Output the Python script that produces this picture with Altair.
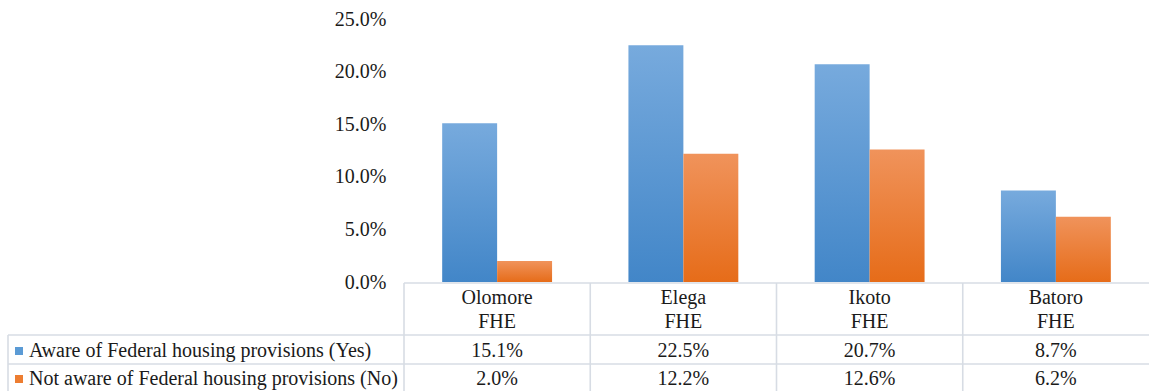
import altair as alt
import pandas as pd

# Survey results: awareness of Federal housing provisions per estate (percent)
places = ["Olomore", "Elega", "Ikoto", "Batoro"]
suffix = ["FHE", "FHE", "FHE", "FHE"]
aware_yes = [15.1, 22.5, 20.7, 8.7]
aware_no = [2.0, 12.2, 12.6, 6.2]
series = ["Aware of Federal housing provisions (Yes)",
          "Not aware of Federal housing provisions (No)"]
y_ticks = [0, 5, 10, 15, 20, 25]

W, H = 745, 263
FONT = "Liberation Serif"
FS = 20
INK = "#1a1a1a"
GRID = "#d7dce4"
LEFT = 396  # distance from the plot's left edge to the table's outer border

rows = []
for p, s, a, b in zip(places, suffix, aware_yes, aware_no):
    rows.append({"place": p, "suffix": s, "series": series[0], "key": "Yes", "value": a})
    rows.append({"place": p, "suffix": s, "series": series[1], "key": "No", "value": b})
df = pd.DataFrame(rows)

x_enc = alt.X("place:N", sort=places, axis=None,
              scale=alt.Scale(paddingInner=0.41, paddingOuter=0.205))
y_scale = alt.Scale(domain=[0, 25], nice=False, zero=True)
y_axis = alt.Axis(values=y_ticks, domain=False, ticks=False, tickSize=0,
                  grid=False, title=None, labelFont=FONT, labelFontSize=FS,
                  labelColor=INK, labelPadding=18,
                  labelExpr="format(datum.value, '.1f') + '%'")

blue_grad = alt.LinearGradient(
    gradient="linear", x1=0, x2=0, y1=0, y2=1,
    stops=[alt.GradientStop(color="#77aadd", offset=0),
           alt.GradientStop(color="#4286c8", offset=1)])
orange_grad = alt.LinearGradient(
    gradient="linear", x1=0, x2=0, y1=0, y2=1,
    stops=[alt.GradientStop(color="#f0935b", offset=0),
           alt.GradientStop(color="#e66c19", offset=1)])

base = alt.Chart(df)

def bars(key, grad):
    return base.transform_filter(alt.datum.key == key).mark_bar(color=grad).encode(
        x=x_enc,
        xOffset=alt.XOffset("key:N", sort=["Yes", "No"],
                            scale=alt.Scale(domain=["Yes", "No"], paddingInner=0, paddingOuter=0)),
        y=alt.Y("value:Q", scale=y_scale, axis=y_axis),
    )

bar_yes = bars("Yes", blue_grad)
bar_no = bars("No", orange_grad)

text_style = dict(font=FONT, fontSize=FS, color=INK, baseline="alphabetic")

one = base.transform_filter(alt.datum.key == "Yes")
header1 = one.mark_text(align="center", **text_style).encode(
    x=x_enc, y=alt.value(285), text="place:N")
header2 = one.mark_text(align="center", **text_style).encode(
    x=x_enc, y=alt.value(309), text="suffix:N")

def value_row(key, ypos):
    return base.transform_filter(alt.datum.key == key).transform_calculate(
        label="format(datum.value, '.1f') + '%'"
    ).mark_text(align="center", **text_style).encode(
        x=x_enc, y=alt.value(ypos), text="label:N")

row_yes = value_row("Yes", 338)
row_no = value_row("No", 366)

one_row = alt.Chart(pd.DataFrame({"k": [0]}))

def hline(x0, x1, y):
    return one_row.mark_rule(color=GRID, strokeWidth=1.6).encode(
        x=alt.value(x0), x2=alt.value(x1), y=alt.value(y))

def vline(x, y0, y1):
    return one_row.mark_rule(color=GRID, strokeWidth=1.6).encode(
        x=alt.value(x), y=alt.value(y0), y2=alt.value(y1))

step = W / len(places)
lines = [hline(0, W, 264), hline(-LEFT, W, 316), hline(-LEFT, W, 345),
         vline(-LEFT, 316, 372), vline(0, 264, 372)]
for i in range(1, len(places)):
    lines.append(vline(step * i, 264, 372))

legend_df = pd.DataFrame({"series": series, "key": ["Yes", "No"], "ypos": [338, 366]})
legend_base = alt.Chart(legend_df)
swatches = legend_base.mark_square(size=64, opacity=1).encode(
    x=alt.value(-LEFT + 11),
    y=alt.Y("ypos:Q", scale=None),
    yOffset=alt.value(-6),
    color=alt.Color("key:N", scale=alt.Scale(domain=["Yes", "No"],
                                              range=["#5b9bd5", "#ed7d31"]), legend=None),
)
legend_text = legend_base.mark_text(align="left", **text_style).encode(
    x=alt.value(-LEFT + 21),
    y=alt.Y("ypos:Q", scale=None),
    text="series:N",
)

chart = alt.layer(
    bar_yes, bar_no, *lines, header1, header2, row_yes, row_no, swatches, legend_text
).resolve_scale(color="independent").properties(
    width=W, height=H,
    padding={"left": 404, "top": 19, "right": 0, "bottom": 109},
    autosize=alt.AutoSizeParams(type="none"),
    background="white",
).configure_view(strokeWidth=0)

chart.save("out.html", embed_options={"renderer": "svg", "actions": False})
